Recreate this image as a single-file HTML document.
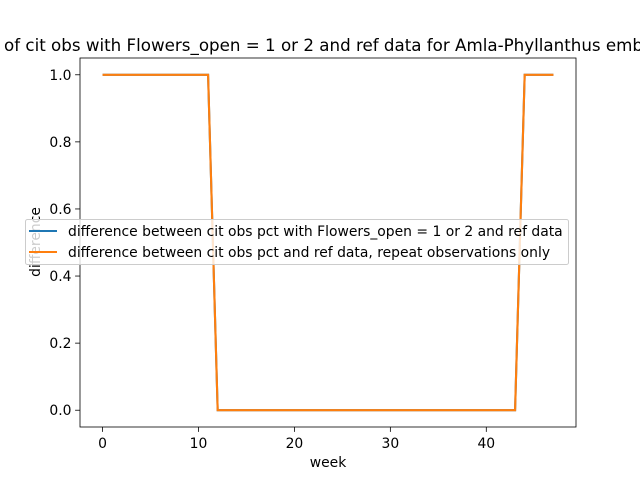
<!DOCTYPE html>
<html><head><meta charset="utf-8"><style>
body{margin:0;background:#fff;}
svg{display:block;font-family:"DejaVu Sans","Liberation Sans",sans-serif;}
</style></head><body>
<svg id="c" width="640" height="480" viewBox="0 0 640 480">
<rect width="640" height="480" fill="#fff"/>
</svg>
<script>
const weeks=[];for(let i=0;i<48;i++)weeks.push(i);
const seriesA=[1,1,1,1,1,1,1,1,1,1,1,1,0,0,0,0,0,0,0,0,0,0,0,0,0,0,0,0,0,0,0,0,0,0,0,0,0,0,0,0,0,0,0,0,1,1,1,1];
const seriesB=[1,1,1,1,1,1,1,1,1,1,1,1,0,0,0,0,0,0,0,0,0,0,0,0,0,0,0,0,0,0,0,0,0,0,0,0,0,0,0,0,0,0,0,0,1,1,1,1];
const xTicks=[0,10,20,30,40];
const yTicks=[0,0.2,0.4,0.6,0.8,1.0];
const L=80,R=576,T=58,B=427;
const xmin=-2.35,xmax=49.35,ymin=-0.05,ymax=1.05;
const sx=v=>L+(v-xmin)/(xmax-xmin)*(R-L);
const sy=v=>B-(v-ymin)/(ymax-ymin)*(B-T);
const svg=document.getElementById('c');const NS='http://www.w3.org/2000/svg';
function el(t,a,p){const e=document.createElementNS(NS,t);for(const k in a)e.setAttribute(k,a[k]);(p||svg).appendChild(e);return e;}
const title=el('text',{x:4,y:51,'font-size':16.7,fill:'#000'});


title.textContent='of cit obs with Flowers_open = 1 or 2 and ref data for Amla-Phyllanthus emblica';
const title0=el('text',{x:-1,y:51,'font-size':16.7,'text-anchor':'end',fill:'#000'});


title0.textContent='Difference';
xTicks.forEach(v=>{const x=sx(v);
const t=el('line',{x1:x,x2:x,y1:B,y2:B+4.9,stroke:'#000','stroke-width':0.8});


const l=el('text',{x:x,y:B+21,'text-anchor':'middle','font-size':13.9});


l.textContent=v;});
yTicks.forEach(v=>{const y=sy(v);
const t=el('line',{x1:L-4.9,x2:L,y1:y,y2:y,stroke:'#000','stroke-width':0.8});


const l=el('text',{x:L-8.5,y:y+5,'text-anchor':'end','font-size':13.9});


l.textContent=v.toFixed(1);});
const xl=el('text',{x:(L+R)/2,y:467,'text-anchor':'middle','font-size':13.9});


xl.textContent='week';
const yl=el('text',{x:0,y:0,'text-anchor':'middle','font-size':13.9,transform:'translate(40,242) rotate(-90)'});


yl.textContent='difference';
function line(data,color,name){const p=el('polyline',{points:data.map((v,i)=>sx(weeks[i])+','+sy(v)).join(' '),fill:'none',stroke:color,'stroke-width':2.1});

}
line(seriesA,'#1f77b4','series-flowers-open-line');
line(seriesB,'#ff7f0e','series-repeat-obs-line');
const frame=el('rect',{x:L,y:T,width:R-L,height:B-T,fill:'none',stroke:'#000','stroke-width':0.8});


const lg=el('g',{});


el('rect',{x:25.5,y:219.5,width:543,height:45,rx:2,fill:'#fff','fill-opacity':0.8,stroke:'#ccc','stroke-width':1},lg);
const items=[['#1f77b4','difference between cit obs pct with Flowers_open = 1 or 2 and ref data',231],['#ff7f0e','difference between cit obs pct and ref data, repeat observations only',252]];
items.forEach(([c,t,y])=>{
const g=el('g',{},lg);


el('line',{x1:29,x2:57,y1:y,y2:y,stroke:c,'stroke-width':2.1},g);
const tx=el('text',{x:68,y:y+5,'font-size':13.9},g);tx.textContent=t;});
</script>
</body></html>
